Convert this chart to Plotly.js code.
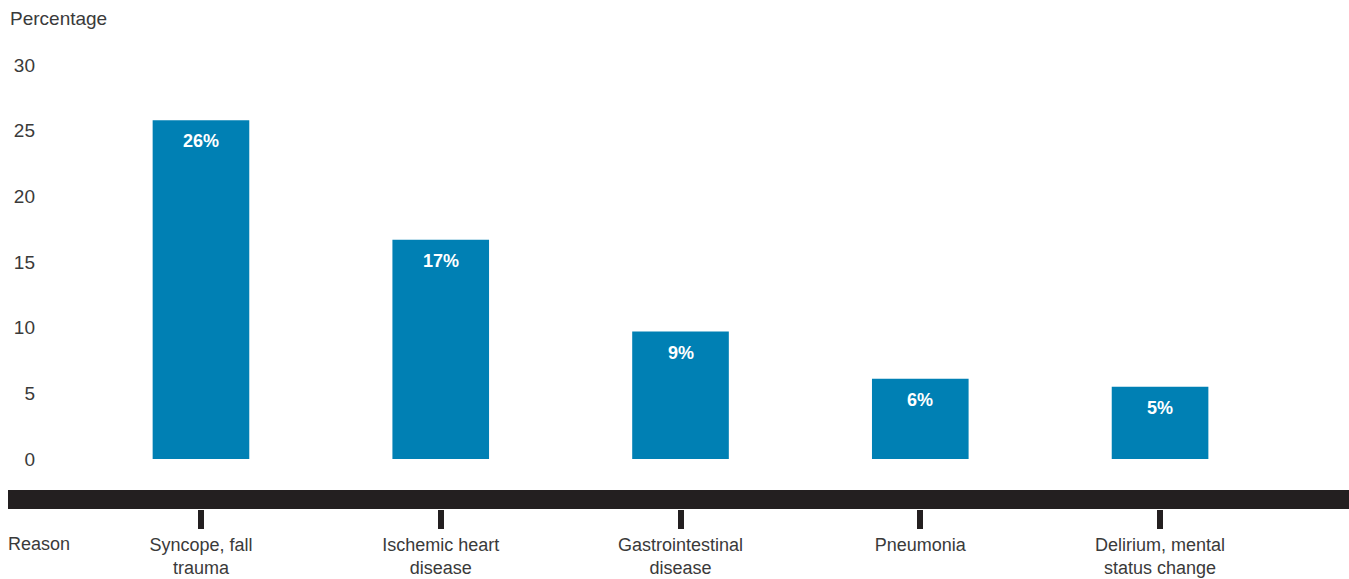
<!DOCTYPE html>
<html>
<head>
<meta charset="utf-8">
<script src="https://cdn.plot.ly/plotly-3.0.1.min.js"></script>
<style>html,body{margin:0;padding:0;background:#fff;}#chart{width:1349px;height:579px;}</style>
</head>
<body>
<div id="chart"></div>
<script>
var categories = ["Syncope, fall<br>trauma", "Ischemic heart<br>disease", "Gastrointestinal<br>disease", "Pneumonia", "Delirium, mental<br>status change"];
var values = [25.8, 16.7, 9.7, 6.1, 5.5];
var barLabels = ["26%", "17%", "9%", "6%", "5%"];
var yTicks = [0, 5, 10, 15, 20, 25, 30];

var textColor = "#3a3a3a";
var fontFamily = "Liberation Sans, Arial, sans-serif";

var trace = {
  type: "bar",
  x: categories,
  y: values,
  width: 0.403,
  marker: {color: "#0080b4"},
  hoverinfo: "skip"
};

var annotations = barLabels.map(function (t, i) {
  return {
    x: categories[i], y: values[i], xref: "x", yref: "y",
    text: t, showarrow: false, yanchor: "middle", yshift: -21,
    font: {family: fontFamily, size: 18, color: "#ffffff", weight: "bold"}
  };
});
annotations.push({
  xref: "paper", yref: "paper", x: (8 - 36) / 1313, y: (509 - 18) / 444,
  xanchor: "left", yanchor: "middle", text: "Percentage", showarrow: false,
  font: {family: fontFamily, size: 19, color: textColor}
});
annotations.push({
  xref: "paper", yref: "paper", x: (6 - 36) / 1313, y: (509 - 544) / 444,
  xanchor: "left", yanchor: "middle", text: "Reason", showarrow: false,
  font: {family: fontFamily, size: 18, color: textColor}
});

var layout = {
  width: 1349, height: 579,
  margin: {l: 36, r: 0, t: 65, b: 70},
  paper_bgcolor: "#ffffff", plot_bgcolor: "#ffffff",
  showlegend: false,
  font: {family: fontFamily, color: textColor},
  xaxis: {
    type: "category",
    range: [-0.688, 4.788],
    showgrid: false, zeroline: false, showline: false,
    ticks: "outside", ticklen: 19, tickwidth: 6, tickcolor: "#231f20",
    tickfont: {family: fontFamily, size: 18, color: textColor},
    fixedrange: true
  },
  yaxis: {
    range: [-3.81, 30],
    tickvals: yTicks,
    showgrid: false, zeroline: false, showline: false,
    ticks: "",
    tickfont: {family: fontFamily, size: 19, color: textColor},
    fixedrange: true
  },
  shapes: [{
    type: "rect", xref: "paper", yref: "paper",
    x0: (8 - 36) / 1313, x1: 1, y0: 0, y1: 19 / 444,
    fillcolor: "#231f20", line: {width: 0}, layer: "above"
  }],
  annotations: annotations
};

Plotly.newPlot("chart", [trace], layout, {displayModeBar: false, staticPlot: true});
</script>
</body>
</html>
